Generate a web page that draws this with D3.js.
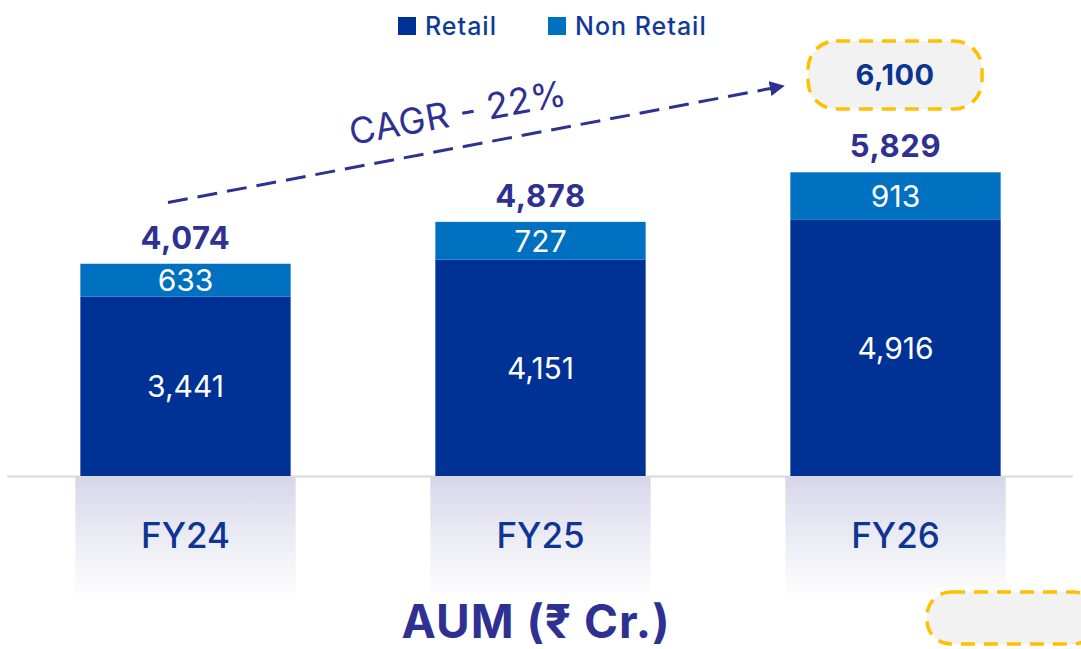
<!DOCTYPE html>
<html>
<head>
<meta charset="utf-8">
<script src="https://cdn.jsdelivr.net/npm/d3@7/dist/d3.min.js"></script>
<style>
  html, body { margin: 0; padding: 0; background: #ffffff; }
  svg { display: block; font-family: "Inter", "Open Sans", sans-serif; }
</style>
</head>
<body>
<svg id="chart" width="1081" height="649"></svg>
<script>
// AUM by fiscal year, split into Retail and Non Retail (₹ Cr.)
const years = ["FY24", "FY25", "FY26"];
const retail = [3441, 4151, 4916];
const nonRetail = [633, 727, 913];
const totals = [4074, 4878, 5829];
const seriesNames = ["Retail", "Non Retail"];
const seriesColors = ["#003296", "#0070c0"];
const target = "6,100";
const cagrLabel = "CAGR - 22%";
const title = "AUM (₹ Cr.)";

const W = 1081, H = 649;
const baseY = 476;
const svg = d3.select("#chart");

const x = d3.scaleBand().domain(years).range([8, 1073]).paddingInner(0.4076).paddingOuter(0.2038);
const y = d3.scaleLinear().domain([0, 6000]).range([baseY, baseY - 0.0521 * 6000]);

const rows = years.map((yr, i) => ({ year: yr, Retail: retail[i], "Non Retail": nonRetail[i], total: totals[i] }));
const stacked = d3.stack().keys(seriesNames)(rows);
const color = d3.scaleOrdinal().domain(seriesNames).range(seriesColors);

// fading reflection under each bar
const defs = svg.append("defs");
const grad = defs.append("linearGradient").attr("id", "reflect").attr("x1", 0).attr("x2", 0).attr("y1", 0).attr("y2", 1);
grad.append("stop").attr("offset", "0%").attr("stop-color", "#d6d6ea");
grad.append("stop").attr("offset", "40%").attr("stop-color", "#e8e8f3");
grad.append("stop").attr("offset", "100%").attr("stop-color", "#ffffff");

svg.append("g").selectAll("rect").data(years).join("rect")
  .attr("x", d => x(d) - 5)
  .attr("y", baseY)
  .attr("width", x.bandwidth() + 10)
  .attr("height", 125)
  .attr("fill", "url(#reflect)");

// baseline
svg.append("line")
  .attr("x1", 7).attr("x2", 1073)
  .attr("y1", baseY + 0.5).attr("y2", baseY + 0.5)
  .attr("stroke", "#d9d9d9").attr("stroke-width", 2);

// stacked bars
svg.append("g").selectAll("g").data(stacked).join("g")
  .attr("fill", d => color(d.key))
  .selectAll("rect").data(d => d).join("rect")
  .attr("x", d => x(d.data.year))
  .attr("y", d => y(d[1]))
  .attr("width", x.bandwidth())
  .attr("height", d => y(d[0]) - y(d[1]));

// segment values
svg.append("g").selectAll("g").data(stacked).join("g")
  .selectAll("text").data(d => d).join("text")
  .attr("x", d => x(d.data.year) + x.bandwidth() / 2)
  .attr("y", d => (y(d[0]) + y(d[1])) / 2)
  .attr("dy", "0.36em")
  .attr("text-anchor", "middle")
  .attr("fill", "#ffffff")
  .attr("font-size", 30)
  .text(d => d3.format(",")(d[1] - d[0]));

// totals above bars
svg.append("g").selectAll("text").data(rows).join("text")
  .attr("x", d => x(d.year) + x.bandwidth() / 2)
  .attr("y", d => y(d.total) - 15)
  .attr("text-anchor", "middle")
  .attr("fill", "#2e3192")
  .attr("font-size", 31)
  .attr("font-weight", 700)
  .attr("letter-spacing", 0.6)
  .text(d => d3.format(",")(d.total));

// category labels
svg.append("g").selectAll("text").data(years).join("text")
  .attr("x", d => x(d) + x.bandwidth() / 2)
  .attr("y", 548)
  .attr("text-anchor", "middle")
  .attr("fill", "#0d3593")
  .attr("font-size", 35)
  .attr("font-weight", 500)
  .text(d => d);

// legend
const legend = svg.append("g");
const legendX = [398, 548];
seriesNames.forEach((name, i) => {
  legend.append("rect")
    .attr("x", legendX[i]).attr("y", 17)
    .attr("width", 18).attr("height", 18)
    .attr("fill", seriesColors[i]);
  legend.append("text")
    .attr("x", legendX[i] + 27).attr("y", 35)
    .attr("fill", "#0f3a9a")
    .attr("font-size", 25)
    .attr("font-weight", 500)
    .attr("letter-spacing", 1)
    .text(name);
});

// growth arrow
const arrowColor = "#2e3192";
defs.append("marker")
  .attr("id", "arrowHead")
  .attr("viewBox", "0 0 10 10")
  .attr("refX", 2).attr("refY", 5)
  .attr("markerWidth", 5).attr("markerHeight", 5)
  .attr("markerUnits", "strokeWidth")
  .attr("orient", "auto")
  .append("path").attr("d", "M0,0 L10,5 L0,10 Z").attr("fill", arrowColor);

svg.append("line")
  .attr("x1", 168).attr("y1", 202.5)
  .attr("x2", 773).attr("y2", 88)
  .attr("stroke", arrowColor)
  .attr("stroke-width", 3)
  .attr("stroke-dasharray", "20 10")
  .attr("marker-end", "url(#arrowHead)");

svg.append("text")
  .attr("transform", "translate(460,125) rotate(-10.5)")
  .attr("text-anchor", "middle")
  .attr("fill", arrowColor)
  .attr("font-size", 36)
  .attr("letter-spacing", 0.5)
  .text(cagrLabel);

// target badge
svg.append("rect")
  .attr("x", 808).attr("y", 41)
  .attr("width", 174).attr("height", 68)
  .attr("rx", 28).attr("ry", 28)
  .attr("fill", "#f2f2f2")
  .attr("stroke", "#ffc000")
  .attr("stroke-width", 3.5)
  .attr("stroke-dasharray", "14 9");

svg.append("text")
  .attr("x", 895).attr("y", 85)
  .attr("text-anchor", "middle")
  .attr("fill", "#0a3590")
  .attr("font-size", 29)
  .attr("font-weight", 700)
  .attr("letter-spacing", 0.5)
  .text(target);

// empty badge at the lower right
svg.append("rect")
  .attr("x", 927).attr("y", 592)
  .attr("width", 170).attr("height", 52)
  .attr("rx", 24).attr("ry", 24)
  .attr("fill", "#f2f2f2")
  .attr("stroke", "#ffc000")
  .attr("stroke-width", 3.5)
  .attr("stroke-dasharray", "14 9");

// title
svg.append("text")
  .attr("x", 536).attr("y", 638)
  .attr("text-anchor", "middle")
  .attr("fill", "#2e3192")
  .attr("font-size", 46)
  .attr("font-weight", 700)
  .attr("letter-spacing", 1)
  .text(title);
</script>
</body>
</html>
